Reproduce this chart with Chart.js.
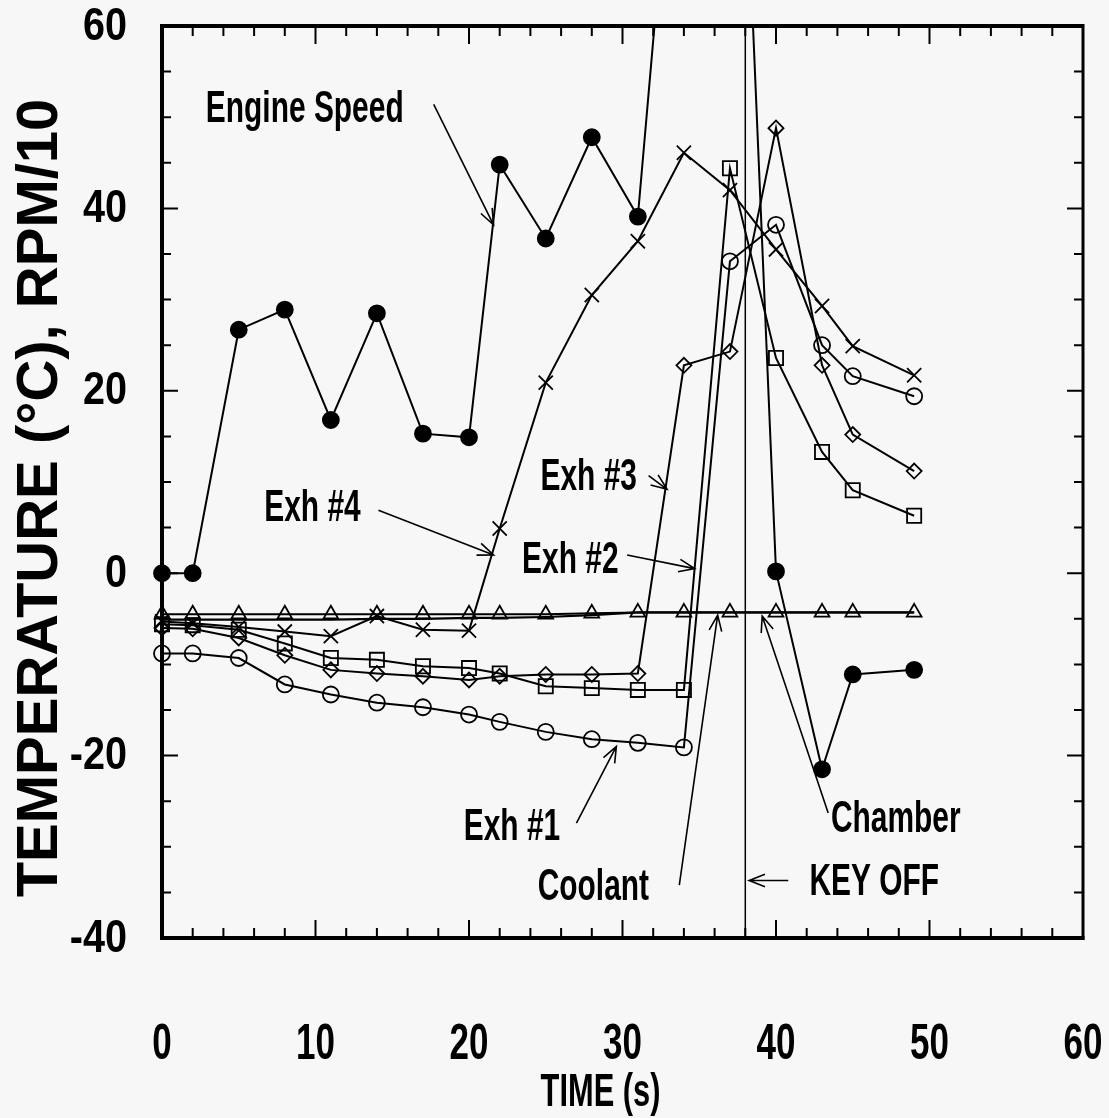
<!DOCTYPE html>
<html>
<head>
<meta charset="utf-8">
<script src="https://cdn.jsdelivr.net/npm/chart.js@4/dist/chart.umd.min.js"></script>
<style>
  html, body { margin: 0; padding: 0; background: #f7f7f7; }
  canvas { display: block; }
</style>
</head>
<body>
<canvas id="chart" width="1109" height="1118"></canvas>
<script>
// Sample times (s)
const times = [0, 2, 5, 8, 11, 14, 17, 20, 22, 25, 28, 31, 34, 37, 40, 43, 45, 49];

// Engine speed in RPM/10 (runs off the top of the plot around key-off)
const engineSpeed = [0, 0, 26.7, 28.9, 16.8, 28.5, 15.3, 14.9, 44.8, 36.7, 47.8, 39.1, 97, 120, 0.2, -21.5, -11.1, -10.6];

// Temperatures (°C)
const exh1 = [-8.8, -8.8, -9.3, -12.2, -13.3, -14.2, -14.7, -15.5, -16.3, -17.4, -18.2, -18.6, -19.1, 34.2, 38.2, 25.0, 21.6, 19.4];
const exh2 = [-5.6, -5.7, -6.2, -7.7, -9.3, -9.5, -10.2, -10.4, -11.0, -12.4, -12.6, -12.8, -12.8, 44.4, 23.6, 13.3, 9.1, 6.3];
const exh3 = [-6.0, -6.1, -7.1, -9.0, -10.6, -11.0, -11.3, -11.7, -11.3, -11.1, -11.1, -11.0, 22.8, 24.3, 48.8, 22.8, 15.2, 11.2];
const exh4 = [-5.3, -5.5, -5.9, -6.4, -6.9, -4.7, -6.2, -6.3, 4.9, 20.9, 30.5, 36.4, 46.1, 42.0, 35.5, 29.3, 24.9, 21.7];
const coolant = [-4.5, -4.5, -4.5, -4.5, -4.5, -4.5, -4.5, -4.5, -4.5, -4.5, -4.4, -4.3, -4.3, -4.3, -4.3, -4.3, -4.3, -4.3];
const chamber = [-5.1, -5.1, -5.1, -5.1, -5.1, -5.0, -5.0, -4.9, -4.9, -4.8, -4.6, -4.3, -4.3, -4.3, -4.3, -4.3, -4.3, -4.3];

const keyOffTime = 38;

// Axis ticks
const xTickLabels = [0, 10, 20, 30, 40, 50, 60];
const yTickLabels = [60, 40, 20, 0, -20, -40];
const xMinorStep = 2;
const yMinorStep = 5;

const xTitle = 'TIME (s)';
const yTitle = 'TEMPERATURE (\u00B0C), RPM/10';

// Callout labels with their arrows, in axis units [time, value]
const callouts = [
  { text: 'Engine Speed', at: [9.3, 50.8], from: [17.7, 51.4], to: [21.6, 38.2] },
  { text: 'Exh #4',       at: [9.8, 7.1],  from: [14.1, 6.9],  to: [21.6, 2.0] },
  { text: 'Exh #3',       at: [27.8, 10.4], from: [31.7, 10.7], to: [32.9, 9.2] },
  { text: 'Exh #2',       at: [26.6, 1.3], from: [30.3, 2.0],  to: [34.7, 0.5] },
  { text: 'Exh #1',       at: [22.8, -27.9], from: [27.0, -27.4], to: [29.6, -19.0] },
  { text: 'Coolant',      at: [28.1, -34.5], from: [33.7, -34.2], to: [36.2, -4.6] },
  { text: 'Chamber',      at: [47.8, -27.1], from: [43.4, -26.3], to: [39.1, -4.7] },
  { text: 'KEY OFF',      at: [46.4, -34.0], from: [40.8, -33.7], to: [38.25, -33.7] }
];

const INK = '#000';
const PAPER = '#f7f7f7';
const FACE = '"Liberation Sans", Arial, Helvetica, sans-serif';

function series(label, values, style, radius, filled) {
  return {
    label,
    data: times.map((t, i) => ({ x: t, y: values[i] })),
    borderColor: INK,
    borderWidth: 2,
    pointStyle: style,
    pointRadius: radius,
    pointBorderWidth: 1.8,
    pointBorderColor: INK,
    pointBackgroundColor: filled ? INK : 'rgba(0,0,0,0)',
    tension: 0,
    fill: false,
    clip: { left: 20, right: 20, top: 0, bottom: 0 }
  };
}

const datasets = [
  series('Engine Speed', engineSpeed, 'circle', 8, true),
  series('Exh #1', exh1, 'circle', 8, false),
  series('Exh #2', exh2, 'rect', 10, false),
  series('Exh #3', exh3, 'rectRot', 7.5, false),
  series('Exh #4', exh4, 'crossRot', 10, false),
  series('Coolant', coolant, 'triangle', 8.5, false),
  Object.assign(series('Chamber', chamber, 'circle', 0, false), { borderWidth: 2.2 }),
  {
    label: 'KEY OFF',
    data: [{ x: keyOffTime, y: -40 }, { x: keyOffTime, y: 60 }],
    borderColor: INK,
    borderWidth: 1.5,
    pointRadius: 0,
    fill: false
  }
];

function squeezed(ctx, str, x, y, size, sx, align) {
  ctx.save();
  ctx.font = 'bold ' + size + 'px ' + FACE;
  ctx.textAlign = align;
  ctx.textBaseline = 'middle';
  ctx.fillStyle = INK;
  ctx.translate(x, y);
  ctx.scale(sx, 1);
  ctx.fillText(str, 0, 0);
  ctx.restore();
}

function arrow(ctx, x1, y1, x2, y2) {
  const ang = Math.atan2(y2 - y1, x2 - x1);
  const len = 17, spread = 0.38;
  ctx.beginPath();
  ctx.moveTo(x1, y1);
  ctx.lineTo(x2, y2);
  ctx.moveTo(x2 - len * Math.cos(ang - spread), y2 - len * Math.sin(ang - spread));
  ctx.lineTo(x2, y2);
  ctx.lineTo(x2 - len * Math.cos(ang + spread), y2 - len * Math.sin(ang + spread));
  ctx.stroke();
}

const paperPlugin = {
  id: 'paper',
  beforeDraw(chart) {
    const ctx = chart.ctx;
    ctx.save();
    ctx.fillStyle = PAPER;
    ctx.fillRect(0, 0, chart.width, chart.height);
    ctx.restore();
  }
};

const framePlugin = {
  id: 'frame',
  afterDraw(chart) {
    const ctx = chart.ctx;
    const { left, right, top, bottom } = chart.chartArea;
    const xs = chart.scales.x, ys = chart.scales.y;
    ctx.save();
    ctx.strokeStyle = INK;
    ctx.lineCap = 'butt';

    // Inward tick marks on all four sides
    ctx.lineWidth = 2;
    for (let v = xs.min; v <= xs.max + 1e-9; v += xMinorStep) {
      const px = xs.getPixelForValue(v);
      const major = xTickLabels.includes(Math.round(v));
      const len = major ? 18 : 10;
      ctx.beginPath();
      ctx.moveTo(px, bottom); ctx.lineTo(px, bottom - len);
      ctx.moveTo(px, top); ctx.lineTo(px, top + len);
      ctx.stroke();
    }
    for (let v = ys.min; v <= ys.max + 1e-9; v += yMinorStep) {
      const py = ys.getPixelForValue(v);
      const major = yTickLabels.includes(Math.round(v));
      const len = major ? 16 : 9;
      ctx.beginPath();
      ctx.moveTo(left, py); ctx.lineTo(left + len, py);
      ctx.moveTo(right, py); ctx.lineTo(right - len, py);
      ctx.stroke();
    }

    // Heavy plot frame
    ctx.lineWidth = 4;
    ctx.beginPath();
    ctx.moveTo(left, top); ctx.lineTo(right, top);
    ctx.moveTo(left, top - 2); ctx.lineTo(left, bottom + 2);
    ctx.moveTo(left - 2, bottom); ctx.lineTo(right + 1.5, bottom);
    ctx.stroke();
    ctx.lineWidth = 3;
    ctx.beginPath();
    ctx.moveTo(right, top - 2); ctx.lineTo(right, bottom + 2);
    ctx.stroke();

    // Tick labels
    xTickLabels.forEach(v => {
      squeezed(ctx, String(v), xs.getPixelForValue(v), bottom + 107, 50, 0.7, 'center');
    });
    yTickLabels.forEach(v => {
      squeezed(ctx, String(v), left - 35, ys.getPixelForValue(v) + 1, 46, 0.86, 'right');
    });

    // Axis titles
    squeezed(ctx, xTitle, (left + right) / 2 - 22, bottom + 155, 46, 0.67, 'center');
    ctx.save();
    ctx.translate(41, (top + bottom) / 2 + 16);
    ctx.rotate(-Math.PI / 2);
    squeezed(ctx, yTitle, 0, 0, 58, 1, 'center');
    ctx.restore();

    // Callouts
    ctx.lineWidth = 1.6;
    callouts.forEach(c => {
      const tx = xs.getPixelForValue(c.at[0]), ty = ys.getPixelForValue(c.at[1]);
      squeezed(ctx, c.text, tx, ty, 44, 0.68, 'center');
      arrow(ctx,
        xs.getPixelForValue(c.from[0]), ys.getPixelForValue(c.from[1]),
        xs.getPixelForValue(c.to[0]), ys.getPixelForValue(c.to[1]));
    });
    ctx.restore();
  }
};

new Chart(document.getElementById('chart'), {
  type: 'line',
  data: { datasets },
  options: {
    responsive: false,
    animation: false,
    devicePixelRatio: 1,
    events: [],
    layout: { padding: { left: 162, right: 26, top: 26, bottom: 180 } },
    plugins: { legend: { display: false }, tooltip: { enabled: false } },
    scales: {
      x: { type: 'linear', min: 0, max: 60, display: false },
      y: { type: 'linear', min: -40, max: 60, display: false }
    }
  },
  plugins: [paperPlugin, framePlugin]
});
</script>
</body>
</html>
